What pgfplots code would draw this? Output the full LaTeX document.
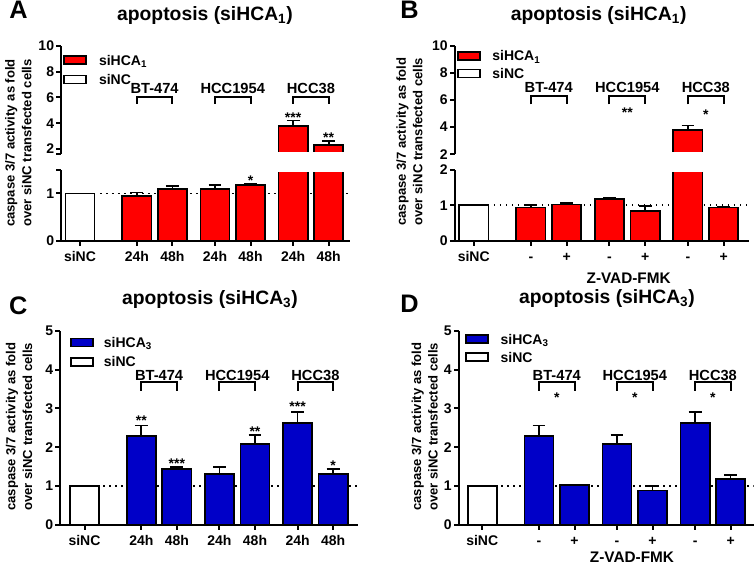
\documentclass[border=0pt]{standalone}
\usepackage{fontspec}
\setmainfont{Liberation Sans}
\usepackage{pgfplots}
\pgfplotsset{compat=1.18}
\usepackage{pgfplotstable}

\definecolor{hred}{RGB}{255,0,0}
\definecolor{hblue}{RGB}{0,0,200}

% x positions: siNC=0; BT-474 = 1.6/2.6; HCC1954 = 3.8/4.8; HCC38 = 6.0/7.0
\pgfplotstableread{
x y e
1.6 0.95 0.07
2.6 1.09 0.07
3.8 1.10 0.07
4.8 1.17 0.03
6.0 3.81 0.39
7.0 2.29 0.35
}\dataA
\pgfplotstableread{
x y e
1.6 0.94 0.06
2.6 1.02 0.04
3.8 1.18 0.03
4.8 0.83 0.15
6.0 3.79 0.34
7.0 0.94 0.02
}\dataB
\pgfplotstableread{
x y e
1.6 2.30 0.26
2.6 1.45 0.05
3.8 1.32 0.17
4.8 2.09 0.23
6.0 2.63 0.28
7.0 1.32 0.13
}\dataC
\pgfplotstableread{
x y e
1.6 2.30 0.26
2.6 1.03 0.01
3.8 2.08 0.24
4.8 0.89 0.11
6.0 2.63 0.27
7.0 1.18 0.11
}\dataD
\pgfplotstableread{
x y
0 1
}\dataNC

\newcommand{\tickfont}{\bfseries\fontsize{10.5}{12}\selectfont}
\newcommand{\grpfont}{\bfseries\fontsize{11}{13}\selectfont}
\newcommand{\starfont}{\bfseries\fontsize{10.5}{12}\selectfont}

\pgfplotsset{
  panel/.style={
    scale only axis, anchor=south west,
    axis x line*=bottom, axis y line*=left,
    axis line style={line width=1.5pt, black},
    tick style={line width=1.5pt, black},
    major tick length=3.5pt,
    tick align=outside,
    ticklabel style={font=\tickfont},
    /pgf/number format/assume math mode=true,
    yticklabel style={inner sep=1.5pt},
    xtick={0,1.6,2.6,3.8,4.8,6,7},
    xticklabel style={anchor=north, inner sep=0pt, text height=7.5pt, text depth=0pt, yshift=-4.5pt},
    legend cell align=left,
    legend image code/.code={\draw[line width=1.3pt,##1] (0pt,-3pt) rectangle (16.5pt,3pt);},
  },
  upper/.style={panel, x axis line style={draw=none}, xtick=\empty},
  hbar/.style={ybar, bar width=0.82, bar shift=0pt, draw=black, line width=1.3pt, forget plot,
    error bars/y dir=plus, error bars/y explicit,
    error bars/error bar style={line width=1.3pt, black},
    error bars/error mark options={rotate=90, mark size=4.8pt, line width=1.3pt, black}},
  ncbar/.style={ybar, bar width=0.82, bar shift=0pt, draw=black, fill=white, line width=1.3pt, forget plot},
  refline/.style={black, line width=1.3pt, dash pattern=on 1.3pt off 3.2pt, forget plot},
  leg/.style={legend style={at={(axis description cs:#1)}, anchor=north west, draw=none, fill=none,
    inner sep=0pt, font=\tickfont, nodes={inner sep=0pt, text height=7.5pt, text depth=0pt}}},
}

\begin{document}
\bfseries
\begin{tikzpicture}
\useasboundingbox (0,0) rectangle (565.5pt,425.25pt);

% ================= Panel A =================
\begin{axis}[panel, at={(45.75pt,244.5pt)}, width=216.75pt, height=53.55pt,
  xmin=-0.535, xmax=7.6, ymin=0, ymax=1.5, ytick={0,1,1.5}, yticklabels={0,1,{}},
  xticklabels={siNC,24h,48h,24h,48h,24h,48h}]
\addplot[refline] coordinates {(0.56,1) (7.6,1)};
\addplot[ncbar] table[x=x,y=y] {\dataNC};
\addplot[hbar, fill=hred] table[x=x,y=y,y error=e] {\dataA};
\node[anchor=base, font=\starfont] at (axis cs:4.8,1.16) {*};
\end{axis}
\begin{axis}[upper, at={(45.75pt,309.5pt)}, width=216.75pt, height=81.45pt,
  xmin=-0.535, xmax=7.6, ymin=1.59, ymax=10, ytick={1.59,2,4,6,8,10}, yticklabels={{},2,4,6,8,10},
  leg={0.007,0.917}, legend style={row sep=7.1pt, /tikz/every odd column/.append style={column sep=9pt}}]
\addplot[hbar, fill=hred, restrict y to domain=1.6:100] table[x=x,y=y,y error=e] {\dataA};
\addlegendimage{fill=hred}\addlegendentry{siHCA\textsubscript{1}}
\addlegendimage{fill=white}\addlegendentry{siNC}
\draw[line width=1.5pt] (axis cs:1.6,5.5) -- (axis cs:1.6,6.05) -- (axis cs:2.6,6.05) -- (axis cs:2.6,5.5);
\draw[line width=1.5pt] (axis cs:3.8,5.5) -- (axis cs:3.8,6.05) -- (axis cs:4.8,6.05) -- (axis cs:4.8,5.5);
\draw[line width=1.5pt] (axis cs:6.0,5.5) -- (axis cs:6.0,6.05) -- (axis cs:7.0,6.05) -- (axis cs:7.0,5.5);
\node[font=\grpfont] at (axis cs:2.1,6.7) {BT-474};
\node[font=\grpfont] at (axis cs:4.3,6.7) {HCC1954};
\node[font=\grpfont] at (axis cs:6.5,6.7) {HCC38};
\node[anchor=base, font=\starfont] at (axis cs:6.0,4.05) {***};
\node[anchor=base, font=\starfont] at (axis cs:7.0,2.50) {**};
\end{axis}
% white gap of the broken axis (hides the bar edges clamped at the axis limits)
\fill[white] (47pt,296.4pt) rectangle (262.5pt,311.2pt);

% ================= Panel B =================
\begin{axis}[panel, at={(341pt,244.5pt)}, width=220.5pt, height=53.55pt,
  xmin=-0.535, xmax=7.7, ymin=0, ymax=2, ytick={0,1,2},
  xticklabels={siNC,-,+,-,+,-,+}]
\addplot[refline] coordinates {(0.56,1) (7.7,1)};
\addplot[ncbar] table[x=x,y=y] {\dataNC};
\addplot[hbar, fill=hred] table[x=x,y=y,y error=e] {\dataB};
\end{axis}
\begin{axis}[upper, at={(341pt,309.5pt)}, width=220.5pt, height=81.45pt,
  xmin=-0.535, xmax=7.7, ymin=2, ymax=10, ytick={2,4,6,8,10},
  leg={0.008,0.954}, legend style={row sep=5.6pt, /tikz/every odd column/.append style={column sep=8.5pt}}]
\addplot[hbar, fill=hred, restrict y to domain=2:100] table[x=x,y=y,y error=e] {\dataB};
\addlegendimage{fill=hred}\addlegendentry{siHCA\textsubscript{1}}
\addlegendimage{fill=white}\addlegendentry{siNC}
\draw[line width=1.5pt] (axis cs:1.6,5.68) -- (axis cs:1.6,6.3) -- (axis cs:2.6,6.3) -- (axis cs:2.6,5.68);
\draw[line width=1.5pt] (axis cs:3.8,5.68) -- (axis cs:3.8,6.3) -- (axis cs:4.8,6.3) -- (axis cs:4.8,5.68);
\draw[line width=1.5pt] (axis cs:6.0,5.68) -- (axis cs:6.0,6.3) -- (axis cs:7.0,6.3) -- (axis cs:7.0,5.68);
\node[font=\grpfont] at (axis cs:2.1,6.9) {BT-474};
\node[font=\grpfont] at (axis cs:4.3,6.9) {HCC1954};
\node[font=\grpfont] at (axis cs:6.5,6.9) {HCC38};
\node[anchor=base, font=\starfont] at (axis cs:4.3,4.70) {**};
\node[anchor=base, font=\starfont] at (axis cs:6.5,4.57) {*};
\end{axis}
\fill[white] (342.5pt,296.4pt) rectangle (561.5pt,311.2pt);

% ================= Panel C =================
\begin{axis}[panel, at={(45pt,31.5pt)}, width=223.5pt, height=145.7pt,
  xmin=-0.69, xmax=7.7, ymin=0, ymax=5, ytick={0,1,2,3,4,5},
  xticklabels={siNC,24h,48h,24h,48h,24h,48h},
  leg={0.034,0.967}, legend style={row sep=7.1pt, /tikz/every odd column/.append style={column sep=7.3pt}}]
\addplot[refline] coordinates {(0.53,1) (7.7,1)};
\addplot[ncbar] table[x=x,y=y] {\dataNC};
\addplot[hbar, fill=hblue] table[x=x,y=y,y error=e] {\dataC};
\addlegendimage{fill=hblue}\addlegendentry{siHCA\textsubscript{3}}
\addlegendimage{fill=white}\addlegendentry{siNC}
\draw[line width=1.5pt] (axis cs:1.6,3.46) -- (axis cs:1.6,3.67) -- (axis cs:2.6,3.67) -- (axis cs:2.6,3.46);
\draw[line width=1.5pt] (axis cs:3.8,3.46) -- (axis cs:3.8,3.67) -- (axis cs:4.8,3.67) -- (axis cs:4.8,3.46);
\draw[line width=1.5pt] (axis cs:6.0,3.46) -- (axis cs:6.0,3.67) -- (axis cs:7.0,3.67) -- (axis cs:7.0,3.46);
\node[font=\grpfont] at (axis cs:2.1,3.86) {BT-474};
\node[font=\grpfont] at (axis cs:4.3,3.86) {HCC1954};
\node[font=\grpfont] at (axis cs:6.5,3.86) {HCC38};
\node[anchor=base, font=\starfont] at (axis cs:1.6,2.565) {**};
\node[anchor=base, font=\starfont] at (axis cs:2.6,1.465) {***};
\node[anchor=base, font=\starfont] at (axis cs:4.8,2.275) {**};
\node[anchor=base, font=\starfont] at (axis cs:6.0,2.915) {***};
\node[anchor=base, font=\starfont] at (axis cs:7.0,1.415) {*};
\end{axis}

% ================= Panel D =================
\begin{axis}[panel, at={(344pt,31.5pt)}, width=221.25pt, height=145.7pt,
  xmin=-0.665, xmax=7.65, ymin=0, ymax=5, ytick={0,1,2,3,4,5},
  xticklabels={siNC,-,+,-,+,-,+},
  leg={0.021,0.983}, legend style={row sep=6pt, /tikz/every odd column/.append style={column sep=8.8pt}}]
\addplot[refline] coordinates {(0.53,1) (7.65,1)};
\addplot[ncbar] table[x=x,y=y] {\dataNC};
\addplot[hbar, fill=hblue] table[x=x,y=y,y error=e] {\dataD};
\addlegendimage{fill=hblue}\addlegendentry{siHCA\textsubscript{3}}
\addlegendimage{fill=white}\addlegendentry{siNC}
\draw[line width=1.5pt] (axis cs:1.6,3.46) -- (axis cs:1.6,3.67) -- (axis cs:2.6,3.67) -- (axis cs:2.6,3.46);
\draw[line width=1.5pt] (axis cs:3.8,3.46) -- (axis cs:3.8,3.67) -- (axis cs:4.8,3.67) -- (axis cs:4.8,3.46);
\draw[line width=1.5pt] (axis cs:6.0,3.46) -- (axis cs:6.0,3.67) -- (axis cs:7.0,3.67) -- (axis cs:7.0,3.46);
\node[font=\grpfont] at (axis cs:2.1,3.86) {BT-474};
\node[font=\grpfont] at (axis cs:4.3,3.86) {HCC1954};
\node[font=\grpfont] at (axis cs:6.5,3.86) {HCC38};
\node[anchor=base, font=\starfont] at (axis cs:2.1,3.16) {*};
\node[anchor=base, font=\starfont] at (axis cs:4.3,3.16) {*};
\node[anchor=base, font=\starfont] at (axis cs:6.5,3.16) {*};
\end{axis}

% ================= Titles, letters, labels =================
\begin{scope}[every node/.append style={font=\bfseries\fontsize{14.5}{16}\selectfont}]
\node at (153.75pt,413.4pt) {apoptosis (siHCA\textsubscript{1})};
\node at (449pt,413.4pt) {apoptosis (siHCA\textsubscript{1})};
\node at (157.5pt,200.25pt) {apoptosis (siHCA\textsubscript{3})};
\node at (455.25pt,201pt) {apoptosis (siHCA\textsubscript{3})};
\end{scope}
\begin{scope}[every node/.append style={font=\bfseries\fontsize{19}{21}\selectfont}]
\node at (13.9pt,418pt) {A};
\node at (307.1pt,418pt) {B};
\node at (13.75pt,195.9pt) {C};
\node at (307.1pt,197.1pt) {D};
\end{scope}
\begin{scope}[every node/.append style={rotate=90, align=center, font=\bfseries\fontsize{9.8}{12.5}\selectfont}]
\node at (13.7pt,318pt) {caspase 3/7 activity as fold\\over siNC transfected cells};
\node at (307.1pt,319pt) {caspase 3/7 activity as fold\\over siNC transfected cells};
\node at (14.25pt,105.2pt) {caspase 3/7 activity as fold\\over siNC transfected cells};
\node at (318.5pt,105.2pt) {caspase 3/7 activity as fold\\over siNC transfected cells};
\end{scope}
\node[font=\bfseries\fontsize{11.5}{13}\selectfont] at (471.5pt,216.5pt) {Z-VAD-FMK};
\node[font=\bfseries\fontsize{11.5}{13}\selectfont] at (474pt,7.5pt) {Z-VAD-FMK};
\end{tikzpicture}
\end{document}
